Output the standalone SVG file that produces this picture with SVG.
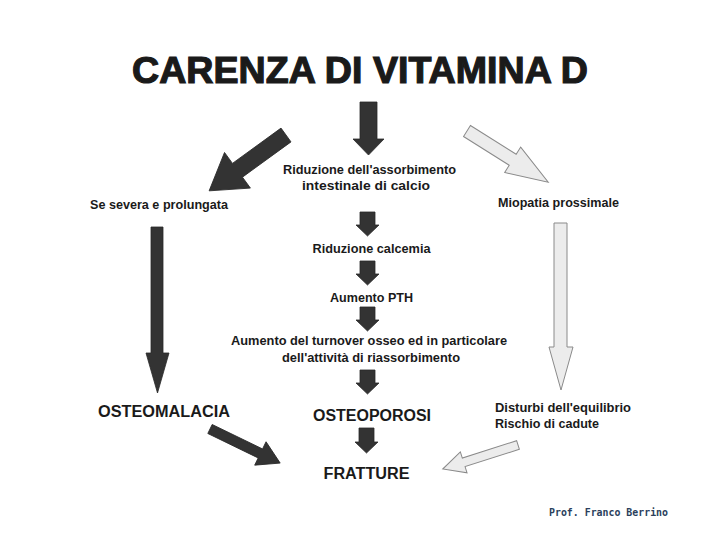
<svg xmlns="http://www.w3.org/2000/svg" width="720" height="540" viewBox="0 0 720 540">
<style>
.t{font-family:"Liberation Sans",Arial,sans-serif;font-weight:bold;fill:#1a1a1a}
.s{font-size:13px}
.b{font-size:16px}
.dark{fill:#333333;stroke:#2a2a2a;stroke-width:0.8}
.light{fill:#ececec;stroke:#8a8a8a;stroke-width:1}
</style>
<rect width="720" height="540" fill="#ffffff"/>
<g id="title"><text class="t" x="360" y="83" text-anchor="middle" font-size="37" textLength="456" lengthAdjust="spacingAndGlyphs" stroke="#1a1a1a" stroke-width="1.2">CARENZA DI VITAMINA D</text></g>
<g id="connectors">
<polygon class="dark" points="360,102 377,102 377,139 384,139 368.5,155 353,139 360,139"/>
<polygon class="dark" transform="translate(286,135) rotate(144)" points="0,-8.5 60,-8.5 60,-22 95,0 60,22 60,8.5 0,8.5"/>
<polygon class="light" transform="translate(467,131) rotate(32.2)" points="0,-6.5 54,-6.5 54,-15 96,0 54,15 54,6.5 0,6.5"/>
<polygon class="dark" points="360,212 375,212 375,225 379,225 367.5,236 356,225 360,225"/>
<polygon class="dark" points="360,261 375,261 375,274 379,274 367.5,285 356,274 360,274"/>
<polygon class="dark" points="360,307 375,307 375,320 379,320 367.5,331 356,320 360,320"/>
<polygon class="dark" points="360,370 375,370 375,383 379,383 367.5,394 356,383 360,383"/>
<polygon class="dark" points="359,428 374,428 374,442 378,442 366.5,453 355,442 359,442"/>
<polygon class="dark" points="151,227 163,227 163,353 169,353 157.5,393 146,353 151,353"/>
<polygon class="light" points="554,223 567,223 567,347 573,347 561,390 549,347 554,347"/>
<polygon class="dark" transform="translate(210,429) rotate(25.9)" points="0,-5 56,-5 56,-13 78,0 56,13 56,5 0,5"/>
<polygon class="light" transform="translate(518,445) rotate(162.3)" points="0,-4.5 57,-4.5 57,-11 79,0 57,11 57,4.5 0,4.5"/>
</g>
<g id="n-riduzione-assorbimento">
<text class="t s" x="369.5" y="174" text-anchor="middle" textLength="173" lengthAdjust="spacingAndGlyphs">Riduzione dell'assorbimento</text>
<text class="t s" x="366" y="190" text-anchor="middle" textLength="128" lengthAdjust="spacingAndGlyphs">intestinale di calcio</text>
</g>
<g id="n-severa"><text class="t s" x="90" y="209" textLength="138" lengthAdjust="spacingAndGlyphs">Se severa e prolungata</text></g>
<g id="n-miopatia"><text class="t s" x="498" y="207" textLength="121" lengthAdjust="spacingAndGlyphs">Miopatia prossimale</text></g>
<g id="n-calcemia"><text class="t s" x="371.5" y="253" text-anchor="middle" textLength="118" lengthAdjust="spacingAndGlyphs">Riduzione calcemia</text></g>
<g id="n-pth"><text class="t s" x="371.5" y="302" text-anchor="middle" textLength="83" lengthAdjust="spacingAndGlyphs">Aumento PTH</text></g>
<g id="n-turnover">
<text class="t s" x="369" y="345" text-anchor="middle" textLength="276" lengthAdjust="spacingAndGlyphs">Aumento del turnover osseo ed in particolare</text>
<text class="t s" x="371" y="362" text-anchor="middle" textLength="178" lengthAdjust="spacingAndGlyphs">dell'attività di riassorbimento</text>
</g>
<g id="n-osteomalacia"><text class="t b" x="98" y="417" textLength="132" lengthAdjust="spacingAndGlyphs">OSTEOMALACIA</text></g>
<g id="n-osteoporosi"><text class="t b" x="372" y="421" text-anchor="middle" textLength="118" lengthAdjust="spacingAndGlyphs">OSTEOPOROSI</text></g>
<g id="n-disturbi">
<text class="t s" x="495" y="412" textLength="136" lengthAdjust="spacingAndGlyphs">Disturbi dell'equilibrio</text>
<text class="t s" x="495" y="428" textLength="104" lengthAdjust="spacingAndGlyphs">Rischio di cadute</text>
</g>
<g id="n-fratture"><text class="t b" x="366.5" y="479" text-anchor="middle" textLength="86" lengthAdjust="spacingAndGlyphs">FRATTURE</text></g>
<g id="credit"><text x="549" y="516" font-family="'DejaVu Sans Mono','Liberation Mono',monospace" font-weight="bold" font-size="10" fill="#2b3f5c" textLength="119" lengthAdjust="spacingAndGlyphs">Prof. Franco Berrino</text></g>
</svg>
